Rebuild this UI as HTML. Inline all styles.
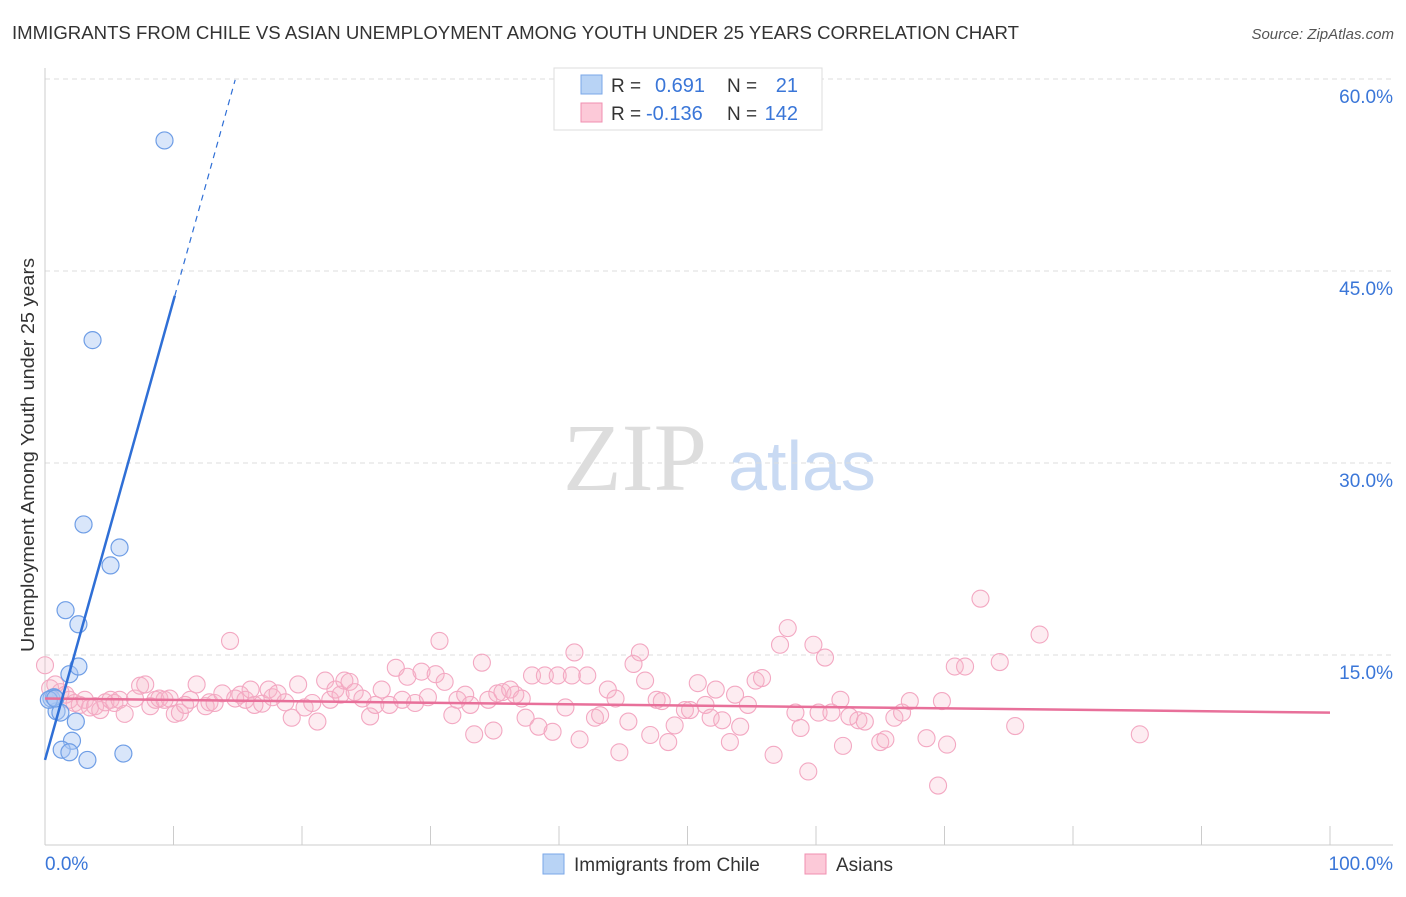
<!DOCTYPE html>
<html><head><meta charset="utf-8"><style>
body{margin:0;background:#fff;width:1406px;height:892px;overflow:hidden;font-family:"Liberation Sans",sans-serif;}
</style></head><body>
<svg width="1406" height="892" xmlns="http://www.w3.org/2000/svg">
<text x="12" y="39" font-size="18" fill="#333" textLength="1007" lengthAdjust="spacingAndGlyphs">IMMIGRANTS FROM CHILE VS ASIAN UNEMPLOYMENT AMONG YOUTH UNDER 25 YEARS CORRELATION CHART</text>
<text x="1394" y="39" font-size="15" fill="#555" font-style="italic" text-anchor="end">Source: ZipAtlas.com</text>
<g><text x="635" y="490" font-size="96" font-family="Liberation Serif,serif" fill="#ddd" text-anchor="middle">ZIP</text><text x="802" y="490" font-size="70" fill="#c9daf3" text-anchor="middle">atlas</text></g>
<g id="grid"></g><g id="axes"></g><g id="marks"></g>
<text transform="translate(34,455) rotate(-90)" font-size="18" fill="#333" text-anchor="middle" textLength="394" lengthAdjust="spacingAndGlyphs">Unemployment Among Youth under 25 years</text>
<g>
<rect x="554" y="68" width="268" height="62" fill="#fff" stroke="#ddd"/>
<rect x="581" y="75" width="21" height="19" fill="#b8d3f5" stroke="#7aa7e8"/>
<rect x="581" y="103" width="21" height="19" fill="#fcc9d8" stroke="#f08fb0"/>
<text x="611" y="92" font-size="19" fill="#333">R = </text><text x="655" y="92" font-size="20" fill="#3a76d8">0.691</text>
<text x="727" y="92" font-size="19" fill="#333">N =</text><text x="798" y="92" font-size="20" fill="#3a76d8" text-anchor="end">21</text>
<text x="611" y="120" font-size="19" fill="#333">R = </text><text x="646" y="120" font-size="20" fill="#3a76d8">-0.136</text>
<text x="727" y="120" font-size="19" fill="#333">N =</text><text x="798" y="120" font-size="20" fill="#3a76d8" text-anchor="end">142</text>
</g>
<g>
<rect x="543" y="854" width="21" height="20" fill="#b8d3f5" stroke="#7aa7e8"/><text x="574" y="871" font-size="19" fill="#333">Immigrants from Chile</text>
<rect x="805" y="854" width="21" height="20" fill="#fcc9d8" stroke="#f08fb0"/><text x="836" y="871" font-size="19" fill="#333">Asians</text>
</g>
</svg>
<script>
const blueX=[9.3,3.7,3.0,5.8,5.1,1.6,2.6,1.9,2.6,0.5,0.9,1.2,0.7,0.3,2.4,2.1,1.3,1.9,3.3,6.1,0.8];
const blueY=[55.2,39.6,25.2,23.4,22.0,18.5,17.4,13.5,14.1,11.6,10.6,10.5,11.7,11.5,9.8,8.3,7.6,7.4,6.8,7.3,11.6];
const pinkX=[0,0.4,0.8,1.2,1.6,1.9,2.3,2.7,3.1,3.5,3.9,4.3,4.7,5.1,5.4,5.8,6.2,7.0,7.4,7.8,8.2,8.6,8.9,9.3,9.7,10.1,10.5,10.9,11.3,11.8,12.5,12.8,13.2,13.8,14.4,14.8,15.2,15.6,16.0,16.3,16.9,17.4,17.7,18.1,18.7,19.2,19.7,20.2,20.8,21.2,21.8,22.2,22.6,23.0,23.3,23.7,24.1,24.7,25.3,25.7,26.2,26.8,27.3,27.8,28.2,28.8,29.3,29.8,30.4,30.7,31.1,31.7,32.1,32.7,33.1,33.4,34.0,34.5,34.9,35.2,35.6,36.2,36.6,37.1,37.4,37.9,38.4,38.9,39.5,39.9,40.5,41.0,41.2,41.6,42.2,42.8,43.2,43.8,44.4,44.7,45.4,45.8,46.3,46.7,47.1,47.6,48.0,48.5,49.0,49.8,50.2,50.8,51.4,51.8,52.2,52.7,53.3,53.7,54.1,54.7,55.3,55.8,56.7,57.2,57.8,58.4,58.8,59.4,59.8,60.2,60.7,61.2,61.9,62.1,62.6,63.3,63.8,65.0,65.4,66.1,66.7,67.3,68.6,69.8,70.2,70.8,71.6,69.5,72.8,74.3,75.5,77.4,85.2];
const pinkY=[14.2,12.4,12.7,12.1,11.9,11.5,11.25,11.1,11.5,10.9,11.0,10.7,11.3,11.5,11.25,11.5,10.4,11.6,12.6,12.7,11.0,11.5,11.6,11.5,11.6,10.4,10.5,11.1,11.5,12.7,11.0,11.3,11.25,12.0,16.1,11.6,11.9,11.5,12.3,11.1,11.2,12.3,11.7,12.0,11.3,10.1,12.7,10.9,11.25,9.8,13.0,11.5,12.3,11.9,13.0,12.9,12.1,11.6,10.2,11.1,12.3,11.1,14.0,11.5,13.3,11.25,13.7,11.7,13.5,16.1,12.9,10.3,11.5,11.9,11.1,8.8,14.4,11.5,9.1,12.0,12.1,12.3,11.9,11.6,10.1,13.4,9.4,13.4,9.0,13.4,10.9,13.4,15.2,8.4,13.4,10.1,10.3,12.3,11.6,7.4,9.8,14.3,15.2,13.0,8.75,11.5,11.4,8.2,9.5,10.7,10.7,12.8,11.1,10.1,12.3,9.9,8.2,11.9,9.4,11.1,13.0,13.2,7.2,15.8,17.1,10.5,9.3,5.9,15.8,10.5,14.8,10.5,11.5,7.9,10.2,9.9,9.8,8.2,8.4,10.1,10.5,11.4,8.5,11.4,8.0,14.1,14.1,4.8,19.4,14.45,9.45,16.6,8.8];
const ticksY=[15,30,45,60];
const blueLine=[6.8,3.59]; const pinkLine=[11.6,-0.011];
const NS='http://www.w3.org/2000/svg';
const X0=45,X1=1330,Y0=847,PY=12.8;
const sx=v=>X0+(X1-X0)*v/100, sy=v=>Y0-v*PY;
function mk(tag,at,parent){const e=document.createElementNS(NS,tag);for(const k in at)e.setAttribute(k,at[k]);document.getElementById(parent).appendChild(e);return e;}
ticksY.forEach(t=>{
 const l=mk('line',{x1:45,x2:1393,y1:sy(t),y2:sy(t),stroke:'#ddd','stroke-dasharray':'5,4'},'grid');
 
 
 const tx=mk('text',{x:1393,y:sy(t)+24,'font-size':19,fill:'#3a76d8','text-anchor':'end'},'grid');
 tx.textContent=t.toFixed(1)+'%';
 
 
});
const ax=mk('line',{x1:45,x2:1393,y1:845,y2:845,stroke:'#ccc'},'axes');


const ay=mk('line',{x1:45,x2:45,y1:68,y2:845,stroke:'#ccc'},'axes');


for(let i=1;i<=10;i++){const t=mk('line',{x1:sx(i*10),x2:sx(i*10),y1:826,y2:845,stroke:'#ccc'},'axes');
 
 }
[['0.0%',45,'start'],['100.0%',1393,'end']].forEach(a=>{const t=mk('text',{x:a[1],y:870,'font-size':19,fill:'#3a76d8','text-anchor':a[2]},'axes');t.textContent=a[0];
 
 });
pinkX.forEach((x,i)=>{const c=mk('circle',{cx:sx(x),cy:sy(pinkY[i]),r:8.5,fill:'rgba(248,180,200,0.25)',stroke:'#f3a8c2','stroke-width':1.1},'marks');
 
 });
blueX.forEach((x,i)=>{const c=mk('circle',{cx:sx(x),cy:sy(blueY[i]),r:8.5,fill:'rgba(170,200,245,0.45)',stroke:'#6f9ee6','stroke-width':1.2},'marks');
 
 });
const pl=mk('line',{x1:sx(0),y1:sy(pinkLine[0]),x2:sx(100),y2:sy(pinkLine[0]+pinkLine[1]*100),stroke:'#e8709a','stroke-width':2.5},'marks');


const bl=mk('line',{x1:sx(0),y1:sy(blueLine[0]),x2:sx(10.1),y2:sy(blueLine[0]+blueLine[1]*10.1),stroke:'#2f6fd6','stroke-width':2.5},'marks');


const bd=mk('line',{x1:sx(10.1),y1:sy(blueLine[0]+blueLine[1]*10.1),x2:sx(14.8),y2:sy(blueLine[0]+blueLine[1]*14.8),stroke:'#2f6fd6','stroke-width':1.2,'stroke-dasharray':'6,5'},'marks');


</script>
</body></html>
